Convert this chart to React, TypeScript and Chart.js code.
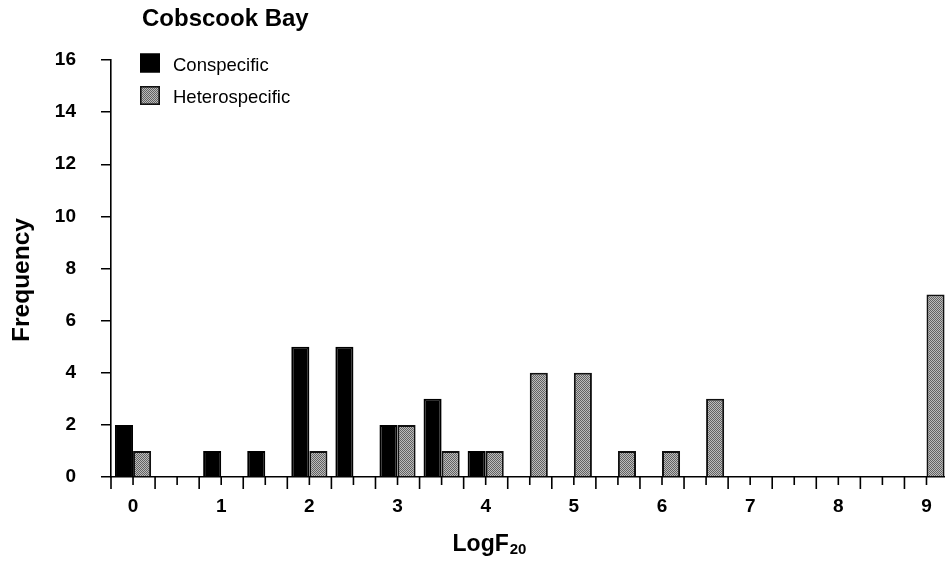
import React, { useEffect, useRef } from 'react';
import { Chart, registerables } from 'chart.js';

Chart.register(...registerables);

// Histogram bins of LogF20 (bin centres, width 0.5)
const bins = [0, 0.5, 1, 1.5, 2, 2.5, 3, 3.5, 4, 4.5, 5, 5.5, 6, 6.5, 7, 7.5, 8, 8.5, 9];
const conspecific = [2, 0, 1, 1, 5, 5, 2, 3, 1, 0, 0, 0, 0, 0, 0, 0, 0, 0, 0];
const heterospecific = [1, 0, 0, 0, 1, 0, 2, 1, 1, 4, 4, 1, 1, 3, 0, 0, 0, 0, 7];

const xTickValues = [0, 1, 2, 3, 4, 5, 6, 7, 8, 9];
const yTickValues = [0, 2, 4, 6, 8, 10, 12, 14, 16];

const chartTitle = 'Cobscook Bay';
const yTitle = 'Frequency';
const xTitleMain = 'LogF';
const xTitleSub = '20';

const FONT = "'Liberation Sans', Arial, Helvetica, sans-serif";
const BIN_WIDTH = 0.5;

function makeStipple(): CanvasPattern | string {
  const tile = document.createElement('canvas');
  tile.width = 2;
  tile.height = 2;
  const c = tile.getContext('2d');
  if (!c) return '#909090';
  c.fillStyle = '#bcbcbc';
  c.fillRect(0, 0, 2, 2);
  c.fillStyle = '#626262';
  c.fillRect(0, 0, 1, 1);
  c.fillRect(1, 1, 1, 1);
  const p = c.createPattern(tile, 'repeat');
  return p || '#909090';
}

// Draws the headline, axis titles, the in-plot legend and the x-axis tick marks
const decorations = {
  id: 'decorations',
  afterDraw(chart: any) {
    const { ctx, chartArea, scales } = chart;
    const x = scales.x;
    ctx.save();
    ctx.fillStyle = '#000';
    ctx.strokeStyle = '#000';

    // headline
    ctx.font = `bold 24px ${FONT}`;
    ctx.textAlign = 'left';
    ctx.textBaseline = 'alphabetic';
    ctx.fillText(chartTitle, 142, 25.5);

    // y title
    ctx.save();
    ctx.translate(29, 280);
    ctx.rotate(-Math.PI / 2);
    ctx.font = `bold 24.5px ${FONT}`;
    ctx.textAlign = 'center';
    ctx.fillText(yTitle, 0, 0);
    ctx.restore();

    // x title with subscript
    ctx.font = `bold 23px ${FONT}`;
    const wMain = ctx.measureText(xTitleMain).width;
    ctx.font = `bold 15px ${FONT}`;
    const wSub = ctx.measureText(xTitleSub).width;
    const startX = 489.5 - (wMain + 1 + wSub) / 2;
    ctx.font = `bold 23px ${FONT}`;
    ctx.textAlign = 'left';
    ctx.fillText(xTitleMain, startX, 551);
    ctx.font = `bold 15px ${FONT}`;
    ctx.fillText(xTitleSub, startX + wMain + 1, 554);

    // x-axis ticks: long at bin edges, short at bin centres
    ctx.lineWidth = 1.6;
    const y0 = chartArea.bottom;
    const edges = bins.map((b) => b - BIN_WIDTH / 2).concat([bins[bins.length - 1] + BIN_WIDTH / 2]);
    ctx.beginPath();
    edges.forEach((e) => {
      const px = x.getPixelForValue(e);
      if (px < chartArea.left - 1 || px > chartArea.right + 1) return;
      ctx.moveTo(px, y0);
      ctx.lineTo(px, y0 + 12);
    });
    bins.forEach((b) => {
      const px = x.getPixelForValue(b);
      ctx.moveTo(px, y0);
      ctx.lineTo(px, y0 + 8);
    });
    ctx.stroke();

    // legend
    const items = chart.data.datasets;
    items.forEach((ds: any, i: number) => {
      const bx = 140;
      const by = 53.5 + i * 32.5;
      ctx.fillStyle = ds.backgroundColor;
      ctx.fillRect(bx, by, 20, 19);
      ctx.lineWidth = 1.6;
      ctx.strokeStyle = ds.borderColor;
      ctx.strokeRect(bx + 0.8, by + 0.8, 18.4, 17.4);
      ctx.fillStyle = '#000';
      ctx.font = `18.5px ${FONT}`;
      ctx.textAlign = 'left';
      ctx.textBaseline = 'alphabetic';
      ctx.fillText(ds.label, 173, by + 17);
    });

    ctx.restore();
  },
};

export default function App() {
  const canvasRef = useRef<HTMLCanvasElement | null>(null);

  useEffect(() => {
    const canvas = canvasRef.current;
    if (!canvas) return;
    const stipple = makeStipple();

    const chart = new Chart(canvas, {
      type: 'bar',
      data: {
        datasets: [
          {
            label: 'Conspecific',
            data: bins.map((b, i) => ({ x: b, y: conspecific[i] })),
            backgroundColor: '#000',
            borderColor: '#000',
            borderWidth: 2,
            borderSkipped: 'start',
          },
          {
            label: 'Heterospecific',
            data: bins.map((b, i) => ({ x: b, y: heterospecific[i] })),
            backgroundColor: stipple as any,
            borderColor: '#111',
            borderWidth: 2,
            borderSkipped: 'start',
          },
        ],
      },
      options: {
        animation: false,
        responsive: false,
        devicePixelRatio: 1,
        categoryPercentage: 0.82,
        barPercentage: 1,
        layout: { padding: { top: 60, left: 0, right: 0, bottom: 0 } },
        plugins: {
          legend: { display: false },
          title: { display: false },
          tooltip: { enabled: false },
        },
        scales: {
          x: {
            type: 'linear',
            min: bins[0] - BIN_WIDTH / 2,
            max: 9.21,
            offset: false,
            grid: { display: false, drawTicks: false, offset: false },
            border: { display: true, color: '#000', width: 1.6 },
            afterBuildTicks: (scale: any) => {
              scale.ticks = xTickValues.map((value) => ({ value }));
            },
            afterFit: (scale: any) => {
              scale.height = 86;
              scale.paddingLeft = 0;
              scale.paddingRight = 0;
            },
            ticks: {
              autoSkip: false,
              maxRotation: 0,
              minRotation: 0,
              padding: 18,
              color: '#000',
              font: { family: FONT, size: 19, weight: 'bold' },
              callback: (v: any) => String(v),
            },
          },
          y: {
            type: 'linear',
            min: yTickValues[0],
            max: yTickValues[yTickValues.length - 1],
            afterBuildTicks: (scale: any) => {
              scale.ticks = yTickValues.map((value) => ({ value }));
            },
            afterFit: (scale: any) => {
              scale.width = 111;
            },
            grid: {
              display: true,
              drawOnChartArea: false,
              drawTicks: true,
              tickLength: 10,
              color: '#000',
              lineWidth: 1.5,
            },
            border: { display: true, color: '#000', width: 1.6 },
            ticks: {
              padding: 25,
              color: '#000',
              font: { family: FONT, size: 19, weight: 'bold' },
            },
          },
        },
      },
      plugins: [decorations],
    });

    return () => chart.destroy();
  }, []);

  return (
    <div style={{ position: 'fixed', left: 0, top: 0, width: 945, height: 563, background: '#fff' }}>
      <canvas ref={canvasRef} width={945} height={563} />
    </div>
  );
}
